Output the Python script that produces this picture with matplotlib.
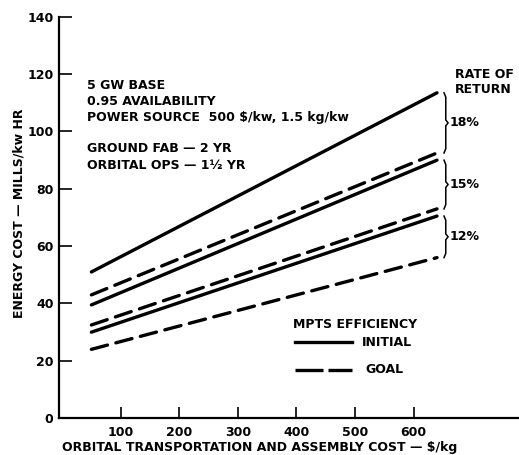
import matplotlib
matplotlib.use("Agg")
import matplotlib.pyplot as plt

plt.rcParams['font.family'] = ['DejaVu Sans']

# Data
x_cost = [50, 640]
initial_18 = [51, 113.5]
initial_15 = [39.5, 90]
initial_12 = [30, 70.5]
goal_18 = [43, 92.5]
goal_15 = [32.5, 73]
goal_12 = [24, 56]
rates = ["18%", "15%", "12%"]
brace_ranges = [(92.5, 113.5), (73, 90), (56, 70.5)]
xticks = [100, 200, 300, 400, 500, 600]
xtick_labels = ["100", "200", "300", "400", "500", "600"]
yticks = [0, 20, 40, 60, 80, 100, 120, 140]

FS = 9
FW = 'bold'

fig = plt.figure(figsize=(5.19, 4.55), dpi=100)
ax = fig.add_axes([0.114, 0.081, 0.886, 0.882])
ax.set_xlim(-5, 780)
ax.set_ylim(0, 140)

lw = 2.4
for y in (initial_18, initial_15, initial_12):
    ax.plot(x_cost, y, color='black', lw=lw, solid_capstyle='round')
for y in (goal_18, goal_15, goal_12):
    ax.plot(x_cost, y, color='black', lw=lw, dashes=(5, 2.6), dash_capstyle='round')

for s in ('top', 'right'):
    ax.spines[s].set_visible(False)
for s in ('left', 'bottom'):
    ax.spines[s].set_linewidth(1.6)

ax.set_yticks(yticks)
ax.set_yticklabels([str(v) for v in yticks], fontsize=FS, fontweight=FW)
ax.set_xticks(xticks)
ax.set_xticklabels(xtick_labels, fontsize=FS, fontweight=FW)
ax.tick_params(axis='y', direction='in', length=9, width=1.2, pad=4)
ax.tick_params(axis='x', direction='in', length=8, width=1.2, pad=6)

ax.set_ylabel("ENERGY COST \u2014 MILLS/kw HR", fontsize=FS, fontweight=FW, va='center')
ax.yaxis.set_label_coords(-0.087, 0.511)
ax.set_xlabel("ORBITAL TRANSPORTATION AND ASSEMBLY COST \u2014 $/kg", fontsize=FS,
              fontweight=FW, va='center')
ax.xaxis.set_label_coords(0.437, -0.072)

info = ["5 GW BASE", "0.95 AVAILABILITY", "POWER SOURCE  500 $/kw, 1.5 kg/kw"]
info_y = [116, 110.5, 105]
for t, yy in zip(info, info_y):
    ax.text(42, yy, t, fontsize=FS, fontweight=FW, va='center', ha='left')
info2 = ["GROUND FAB \u2014 2 YR", "ORBITAL OPS \u2014 1\u00bd YR"]
info2_y = [94, 88]
for t, yy in zip(info2, info2_y):
    ax.text(42, yy, t, fontsize=FS, fontweight=FW, va='center', ha='left')

ax.text(670, 120, "RATE OF", fontsize=FS, fontweight=FW, va='center')
ax.text(670, 114.5, "RETURN", fontsize=FS, fontweight=FW, va='center')

for (y0, y1), r in zip(brace_ranges, rates):
    xb = 652
    ym = (y0 + y1) / 2
    ax.plot([xb, xb + 3, xb + 3, xb + 7, xb + 3, xb + 3, xb],
            [y1, y1 - 1.5, ym + 1, ym, ym - 1, y0 + 1.5, y0],
            color='black', lw=1.1, solid_joinstyle='round')
    ax.text(xb + 10, ym, r, fontsize=FS, fontweight=FW, va='center', ha='left')

ax.text(394, 32.5, "MPTS EFFICIENCY", fontsize=FS, fontweight=FW, va='center')
ax.plot([398, 495], [26.5, 26.5], color='black', lw=lw)
ax.text(512, 26.5, "INITIAL", fontsize=FS, fontweight=FW, va='center')
ax.plot([398, 495], [16.8, 16.8], color='black', lw=lw, dashes=(8.4, 1.5))
ax.text(517, 16.8, "GOAL", fontsize=FS, fontweight=FW, va='center')

fig.savefig("out.png", dpi=100)
